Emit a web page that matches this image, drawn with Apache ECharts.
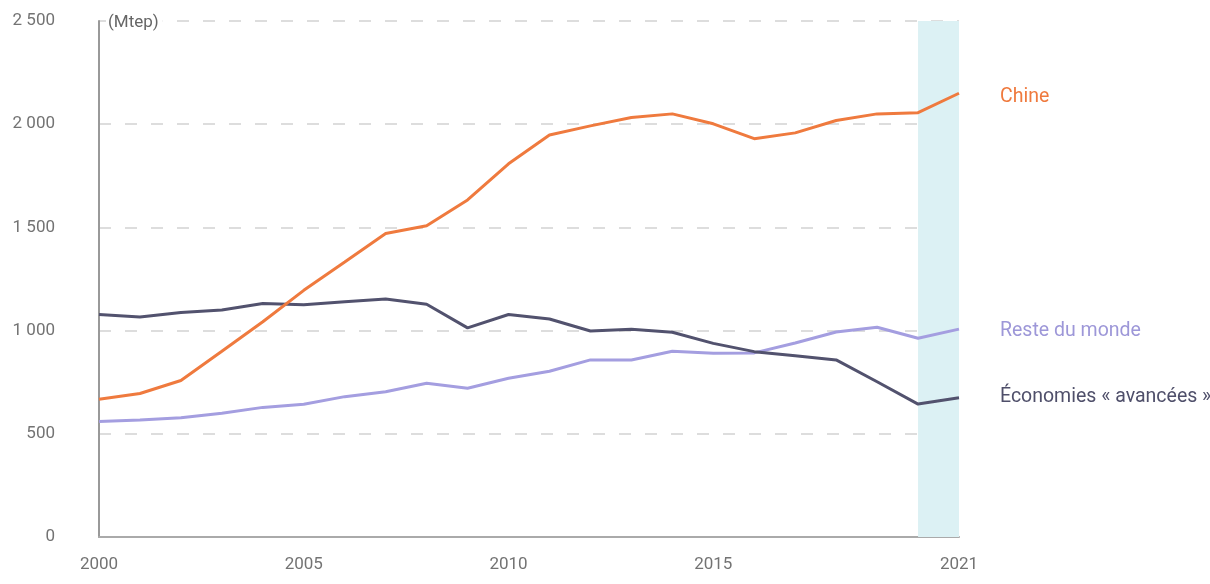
<!DOCTYPE html>
<html>
<head>
<meta charset="utf-8">
<script src="https://cdn.jsdelivr.net/npm/echarts@6/dist/echarts.min.js"></script>
<style>
html,body{margin:0;padding:0;background:#fff;}
#c{width:1210px;height:584px;}
</style>
</head>
<body>
<div id="c"></div>
<script>
var years = ['2000','2001','2002','2003','2004','2005','2006','2007','2008','2009','2010','2011','2012','2013','2014','2015','2016','2017','2018','2019','2020','2021'];
var chine = [667, 695, 758, 900, 1043, 1195, 1332, 1470, 1508, 1633, 1808, 1948, 1992, 2032, 2050, 2002, 1930, 1958, 2018, 2050, 2056, 2150];
var avancees = [1078, 1066, 1088, 1100, 1131, 1125, 1140, 1153, 1128, 1013, 1078, 1056, 998, 1007, 992, 938, 898, 878, 858, 752, 644, 675];
var reste = [559, 567, 578, 600, 628, 643, 680, 704, 745, 721, 769, 803, 858, 858, 900, 890, 892, 940, 993, 1016, 963, 1007];
var shadeRange = ['2020', '2021'];
var shownYears = ['2000','2005','2010','2015','2021'];

var chart = echarts.init(document.getElementById('c'));
var font = 'Roboto, "Noto Sans", sans-serif';
chart.setOption({
  animation: false,
  grid: {left: 99, right: 251, top: 21, bottom: 47},
  xAxis: {
    type: 'category',
    data: years,
    boundaryGap: false,
    axisLine: {lineStyle: {color: '#aaaaaa', width: 2}},
    axisTick: {show: false},
    axisLabel: {
      interval: 0,
      margin: 19,
      color: '#737373',
      fontSize: 17,
      fontFamily: font,
      formatter: function (v) { return shownYears.indexOf(v) >= 0 ? v : ''; }
    },
    splitLine: {show: false}
  },
  yAxis: {
    type: 'value',
    min: 0,
    max: 2500,
    interval: 500,
    axisLine: {show: true, lineStyle: {color: '#999999', width: 2}},
    axisTick: {show: false},
    axisLabel: {
      margin: 44,
      color: '#737373',
      fontSize: 17,
      fontFamily: font,
      formatter: function (v) { return String(v).replace(/\B(?=(\d{3})+(?!\d))/g, ' '); }
    },
    splitLine: {lineStyle: {color: '#dddddd', width: 2, type: [12, 14]}}
  },
  series: [
    {
      name: 'Chine', type: 'line', data: chine, symbol: 'none',
      lineStyle: {color: '#ef7a3e', width: 3},
      z: 5,
      markArea: {
        silent: true,
        itemStyle: {color: '#dcf1f4'},
        data: [[{xAxis: shadeRange[0]}, {xAxis: shadeRange[1]}]]
      }
    },
    {
      name: 'Économies « avancées »', type: 'line', data: avancees, symbol: 'none',
      lineStyle: {color: '#52526e', width: 3}, z: 4
    },
    {
      name: 'Reste du monde', type: 'line', data: reste, symbol: 'none',
      lineStyle: {color: '#a49ee0', width: 3}, z: 3
    }
  ],
  graphic: [
    {type: 'text', left: 106, top: 12, z: 100, style: {text: '(Mtep)', fill: '#666666', font: '17px ' + font, backgroundColor: '#ffffff', padding: [2, 4, 2, 2]}},
    {type: 'text', left: 1000, top: 87, style: {text: 'Chine', fill: '#ef7a3e', font: '19.5px ' + font}},
    {type: 'text', left: 1000, top: 321, style: {text: 'Reste du monde', fill: '#9d97d8', font: '19.5px ' + font}},
    {type: 'text', left: 1000, top: 387, style: {text: 'Économies « avancées »', fill: '#4f4f6a', font: '19.5px ' + font}}
  ]
});
</script>
</body>
</html>
